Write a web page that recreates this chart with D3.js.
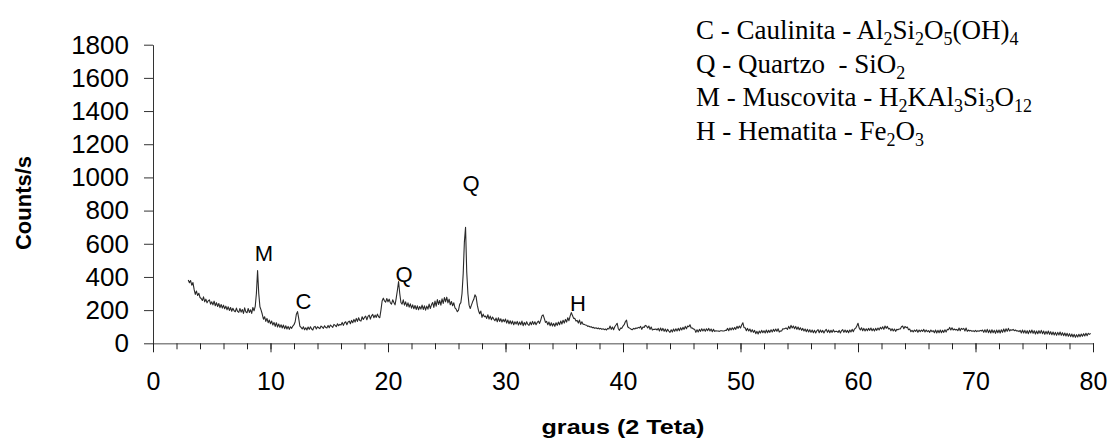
<!DOCTYPE html>
<html>
<head>
<meta charset="utf-8">
<script src="https://cdn.jsdelivr.net/npm/d3@7/dist/d3.min.js"></script>
<style>
  body { margin: 0; background: #fff; }
</style>
</head>
<body>
<script>
var width = 1112, height = 440;

// diffractogram: one value every 0.1 degree from 3.0 to 79.8
var startAngle = 3.0;
var stepAngle = 0.1;
var counts = [
  382, 365, 378, 350, 366, 325, 295, 315, 288, 302,
  276, 270, 258, 280, 250, 266, 244, 256, 262, 236,
  250, 232, 254, 226, 245, 222, 240, 215, 234, 212,
  230, 208, 224, 202, 220, 198, 216, 193, 211, 196,
  190, 212, 192, 186, 210, 188, 204, 180, 214, 190,
  184, 210, 186, 202, 180, 216, 196, 222, 300, 438,
  300, 220, 200, 175, 145, 160, 132, 150, 124, 140,
  118, 134, 110, 126, 102, 124, 98, 116, 96, 112,
  92, 110, 88, 106, 86, 102, 84, 100, 90, 104,
  112, 130, 175, 191, 150, 104, 96, 86, 100, 82,
  94, 80, 98, 84, 100, 86, 80, 98, 102, 86,
  100, 94, 88, 104, 98, 90, 106, 95, 92, 108,
  94, 110, 104, 96, 114, 108, 100, 118, 106, 114,
  110, 126, 108, 124, 130, 112, 128, 134, 118, 138,
  124, 144, 128, 150, 132, 154, 138, 134, 160, 144,
  156, 164, 142, 162, 170, 146, 166, 174, 154, 170,
  156, 176, 160, 154, 200, 255, 272, 256, 248, 270,
  250, 266, 244, 236, 262, 246, 232, 272, 320, 372,
  300, 246, 236, 262, 230, 250, 222, 244, 218, 238,
  212, 232, 208, 228, 204, 226, 202, 222, 206, 230,
  204, 226, 200, 224, 206, 236, 210, 232, 246, 216,
  254, 224, 264, 234, 258, 230, 268, 240, 276, 250,
  278, 244, 266, 232, 252, 226, 244, 214, 206, 190,
  200, 235, 245, 300, 420, 610, 700, 430, 300, 230,
  210, 230, 250, 265, 292, 280, 230, 198, 178, 194,
  156, 176, 160, 164, 150, 172, 146, 164, 142, 158,
  146, 136, 152, 130, 154, 132, 148, 128, 144, 130,
  146, 122, 140, 118, 136, 116, 134, 112, 130, 116,
  132, 110, 128, 112, 134, 106, 126, 110, 130, 114,
  108, 128, 112, 132, 114, 130, 112, 126, 134, 120,
  140, 165, 171, 150, 126, 132, 112, 128, 106, 124,
  104, 120, 102, 124, 108, 128, 112, 134, 116, 139,
  122, 144, 128, 154, 136, 164, 185, 168, 150, 150,
  134, 138, 122, 140, 114, 130, 115, 114, 110, 109,
  102, 104, 98, 100, 94, 96, 90, 94, 88, 92,
  86, 90, 84, 88, 82, 86, 80, 90, 86, 104,
  84, 98, 82, 100, 110, 121, 88, 78, 92, 90,
  104, 112, 130, 140, 100, 94, 90, 84, 82, 90,
  86, 92, 90, 96, 92, 102, 84, 98, 96, 108,
  104, 92, 104, 84, 98, 80, 84, 84, 86, 80,
  90, 74, 92, 76, 90, 72, 86, 70, 84, 74,
  66, 82, 68, 86, 72, 88, 74, 90, 76, 94,
  80, 96, 84, 102, 88, 104, 100, 112, 92, 92,
  86, 84, 66, 82, 68, 84, 72, 88, 74, 86,
  72, 88, 76, 90, 74, 86, 70, 84, 72, 76,
  74, 74, 72, 76, 76, 74, 74, 78, 78, 90,
  76, 92, 80, 94, 82, 96, 84, 102, 90, 104,
  92, 110, 124, 94, 94, 76, 90, 74, 86, 68,
  82, 66, 78, 58, 72, 56, 74, 62, 78, 64,
  76, 62, 80, 64, 78, 66, 82, 68, 84, 72,
  86, 72, 88, 68, 74, 74, 88, 86, 90, 92,
  84, 102, 88, 108, 92, 104, 88, 102, 84, 98,
  82, 94, 78, 90, 74, 86, 70, 84, 68, 82,
  66, 80, 64, 78, 62, 76, 82, 64, 80, 66,
  78, 62, 76, 84, 66, 80, 64, 78, 66, 82,
  68, 72, 72, 66, 78, 62, 76, 82, 66, 80,
  66, 78, 64, 80, 68, 84, 70, 86, 90, 104,
  121, 92, 80, 94, 76, 90, 74, 88, 76, 90,
  78, 92, 76, 88, 74, 90, 78, 92, 80, 96,
  86, 100, 84, 104, 90, 102, 86, 90, 76, 88,
  74, 86, 72, 84, 82, 86, 86, 100, 104, 88,
  102, 94, 98, 82, 86, 70, 78, 68, 80, 72,
  82, 66, 80, 70, 80, 72, 84, 68, 80, 70,
  76, 66, 80, 70, 76, 64, 80, 62, 78, 64,
  80, 64, 78, 66, 82, 68, 84, 82, 96, 80,
  94, 80, 86, 80, 84, 76, 92, 76, 90, 84,
  90, 74, 92, 72, 80, 74, 78, 72, 76, 70,
  78, 70, 76, 72, 78, 74, 80, 66, 82, 66,
  84, 64, 80, 62, 82, 64, 78, 60, 80, 64,
  80, 62, 82, 66, 86, 68, 88, 72, 90, 74,
  82, 78, 84, 76, 80, 74, 76, 70, 78, 62,
  80, 62, 78, 60, 76, 58, 78, 62, 80, 60,
  76, 56, 74, 58, 76, 60, 78, 58, 74, 54,
  72, 56, 74, 54, 70, 52, 68, 50, 66, 48,
  66, 50, 68, 48, 64, 46, 62, 44, 60, 42,
  58, 40, 56, 38, 54, 36, 52, 38, 54, 40,
  56, 42, 58, 44, 60, 46, 60, 54, 60
];

var xTicks = [0, 10, 20, 30, 40, 50, 60, 70, 80];
var xMinorTicks = d3.range(0, 81, 2);
var yTicks = [0, 200, 400, 600, 800, 1000, 1200, 1400, 1600, 1800];

// peak letters (angle and count of the letter's base)
var peakLetters = ['M', 'C', 'Q', 'Q', 'H'];
var peakAngles = [9.45, 12.8, 21.36, 27.06, 36.17];
var peakCounts = [496, 207, 372, 918, 197];

// legend lines: pairs of [normal text, subscript]
var legendLines = [
  [['C - Caulinita - Al', '2'], ['Si', '2'], ['O', '5'], ['(OH)', '4']],
  [['Q - Quartzo  - SiO', '2']],
  [['M - Muscovita - H', '2'], ['KAl', '3'], ['Si', '3'], ['O', '12']],
  [['H - Hematita - Fe', '2'], ['O', '3']]
];

var sans = '"Liberation Sans", Arial, sans-serif';
var serif = '"Liberation Serif", "Times New Roman", serif';

var data = counts.map(function (c, i) {
  return { angle: startAngle + i * stepAngle, count: c };
});

var svg = d3.select('body').append('svg')
  .attr('width', width)
  .attr('height', height)
  .style('font-family', sans);

var x = d3.scaleLinear().domain([0, 80]).range([153, 1093]);
var y = d3.scaleLinear().domain([0, 1800]).range([343.3, 44.7]);

// y axis
var yAxis = svg.append('g')
  .attr('transform', 'translate(153,0)')
  .call(d3.axisLeft(y).tickValues(yTicks).tickFormat(d3.format('d'))
    .tickSize(9).tickPadding(15).tickSizeOuter(0));
yAxis.select('.domain').attr('stroke', '#333');
yAxis.selectAll('.tick line').attr('stroke', '#333');
yAxis.selectAll('.tick text')
  .style('font-family', sans)
  .attr('font-size', 26)
  .attr('fill', '#000');

// x axis: minor ticks then major ticks with labels
var xg = svg.append('g').attr('transform', 'translate(0,343.3)');
xg.call(d3.axisBottom(x).tickValues(xMinorTicks).tickSize(6).tickFormat('').tickSizeOuter(0));
xg.select('.domain').attr('stroke', '#888').attr('stroke-width', 1.5);
xg.selectAll('.tick line').attr('stroke', '#222');

var xMajor = svg.append('g').attr('transform', 'translate(0,343.3)')
  .call(d3.axisBottom(x).tickValues(xTicks).tickSize(9).tickPadding(20).tickSizeOuter(0));
xMajor.select('.domain').remove();
xMajor.selectAll('.tick line').attr('stroke', '#222');
xMajor.selectAll('.tick text')
  .style('font-family', sans)
  .attr('font-size', 25)
  .attr('fill', '#000');

// trace
var line = d3.line()
  .x(function (d) { return x(d.angle); })
  .y(function (d) { return y(d.count); });

svg.append('path')
  .datum(data)
  .attr('d', line)
  .attr('fill', 'none')
  .attr('stroke', '#2a2a2a')
  .attr('stroke-width', 1.1)
  .attr('stroke-linejoin', 'round');

// peak letters
svg.selectAll('.peak')
  .data(peakLetters)
  .enter()
  .append('text')
  .attr('class', 'peak')
  .attr('x', function (d, i) { return x(peakAngles[i]); })
  .attr('y', function (d, i) { return y(peakCounts[i]); })
  .attr('text-anchor', 'middle')
  .attr('font-size', 22)
  .attr('fill', '#000')
  .text(function (d) { return d; });

// axis titles
svg.append('text')
  .attr('transform', 'translate(31,203) rotate(-90)')
  .attr('text-anchor', 'middle')
  .attr('font-weight', 'bold')
  .attr('font-size', 22)
  .text('Counts/s');

svg.append('text')
  .attr('x', 623)
  .attr('y', 434)
  .attr('text-anchor', 'middle')
  .attr('font-weight', 'bold')
  .attr('font-size', 21)
  .attr('textLength', 163)
  .attr('lengthAdjust', 'spacingAndGlyphs')
  .text('graus (2 Teta)');

// legend with subscripts
var legend = svg.append('g');
legendLines.forEach(function (parts, li) {
  var t = legend.append('text')
    .attr('x', 696)
    .attr('y', 39 + li * 33.5)
    .style('font-family', serif)
    .attr('font-size', 27)
    .attr('fill', '#000')
    .style('white-space', 'pre');
  parts.forEach(function (p, pi) {
    t.append('tspan').attr('dy', pi === 0 ? 0 : -6).text(p[0]);
    t.append('tspan').attr('font-size', 18).attr('dy', 6).text(p[1]);
  });
});
</script>
</body>
</html>
